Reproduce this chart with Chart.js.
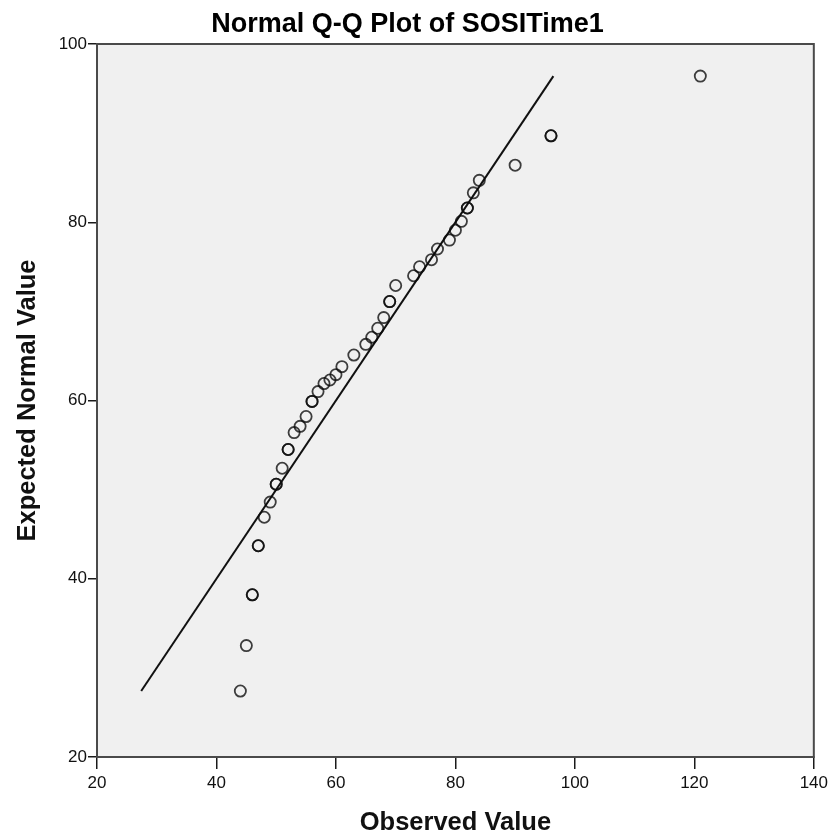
<!DOCTYPE html>
<html>
<head>
<meta charset="utf-8">
<script src="https://cdn.jsdelivr.net/npm/chart.js@4.4.1/dist/chart.umd.min.js"></script>
<style>
  html, body { margin: 0; padding: 0; background: #ffffff; }
  #c { display: block; }
</style>
</head>
<body>
<canvas id="c" width="832" height="834"></canvas>
<script>
// Observed values (duplicates listed twice, as they plot on top of each other)
const observed = [44,45,46,46,47,47,48,49,50,50,51,52,52,53,54,55,56,56,57,58,59,60,61,63,65,66,67,68,69,69,70,73,74,76,77,79,80,81,82,82,83,84,90,96,96,121];
// Expected normal values
const expected = [27.4,32.5,38.2,38.2,43.7,43.7,46.9,48.6,50.6,50.6,52.4,54.5,54.5,56.4,57.1,58.2,59.9,59.9,61.0,61.9,62.3,62.9,63.8,65.1,66.3,67.1,68.1,69.3,71.1,71.1,72.9,74.0,75.0,75.8,77.0,78.0,79.1,80.1,81.6,81.6,83.3,84.7,86.4,89.7,89.7,96.4];
// Reference line end points
const lineX = [27.4, 96.4];
const lineY = [27.4, 96.4];
// Axis ticks
const xTicks = [20, 40, 60, 80, 100, 120, 140];
const yTicks = [20, 40, 60, 80, 100];

const FONT = "'Liberation Sans', Arial, Helvetica, sans-serif";

const points = observed.map((v, i) => ({ x: v, y: expected[i] }));
const linePts = lineX.map((v, i) => ({ x: v, y: lineY[i] }));

const plotBg = {
  id: 'plotBg',
  beforeDraw(chart) {
    const { ctx, chartArea: a } = chart;
    ctx.save();
    ctx.fillStyle = '#f0f0f0';
    ctx.fillRect(a.left, a.top, a.right - a.left, a.bottom - a.top);
    ctx.restore();
  },
  afterDraw(chart) {
    const { ctx, chartArea: a } = chart;
    ctx.save();
    ctx.strokeStyle = '#4a4a4a';
    ctx.lineWidth = 2;
    ctx.strokeRect(a.left, a.top, a.right - a.left, a.bottom - a.top);
    ctx.restore();
  }
};

new Chart(document.getElementById('c'), {
  type: 'scatter',
  data: {
    datasets: [
      {
        label: 'Observed',
        data: points,
        pointRadius: 5.6,
        pointHoverRadius: 5.6,
        pointBorderWidth: 1.8,
        pointBackgroundColor: 'rgba(0,0,0,0)',
        pointBorderColor: 'rgba(10,10,10,0.78)',
        showLine: false,
        order: 1
      },
      {
        label: 'Line',
        data: linePts,
        showLine: true,
        pointRadius: 0,
        borderColor: '#111',
        borderWidth: 2,
        fill: false,
        order: 2
      }
    ]
  },
  options: {
    responsive: false,
    animation: false,
    devicePixelRatio: 1,
    layout: { padding: { left: 0, right: 17, top: 0, bottom: 0 } },
    plugins: {
      legend: { display: false },
      tooltip: { enabled: false },
      title: {
        display: true,
        text: 'Normal Q-Q Plot of SOSITime1',
        color: '#000',
        font: { family: FONT, size: 27, weight: 'bold', lineHeight: 1.2 },
        padding: { top: 8, bottom: 3.6 }
      }
    },
    scales: {
      x: {
        type: 'linear',
        min: xTicks[0],
        max: xTicks[xTicks.length - 1],
        afterBuildTicks: s => { s.ticks = xTicks.map(v => ({ value: v })); },
        afterFit: s => { s.height = 77; },
        ticks: {
          color: '#111',
          font: { family: FONT, size: 17 },
          padding: 4,
          maxRotation: 0
        },
        grid: {
          drawOnChartArea: false,
          drawTicks: true,
          tickLength: 12,
          color: '#1a1a1a',
          lineWidth: 1.5
        },
        border: { display: true, color: '#333', width: 2 },
        title: {
          display: true,
          text: 'Observed Value',
          color: '#111',
          font: { family: FONT, size: 25.5, weight: 'bold', lineHeight: 0.8 },
          padding: { top: 0, bottom: 1 }
        }
      },
      y: {
        type: 'linear',
        min: yTicks[0],
        max: yTicks[yTicks.length - 1],
        afterBuildTicks: s => { s.ticks = yTicks.map(v => ({ value: v })); },
        afterFit: s => { s.width = 97; },
        ticks: {
          color: '#111',
          font: { family: FONT, size: 17 },
          padding: 1
        },
        grid: {
          drawOnChartArea: false,
          drawTicks: true,
          tickLength: 9,
          color: '#1a1a1a',
          lineWidth: 1.5
        },
        border: { display: true, color: '#333', width: 2 },
        title: {
          display: true,
          text: 'Expected Normal Value',
          color: '#111',
          font: { family: FONT, size: 25.5, weight: 'bold', lineHeight: 1.2 },
          padding: { top: 12.7, bottom: 0 }
        }
      }
    }
  },
  plugins: [plotBg]
});
</script>
</body>
</html>
